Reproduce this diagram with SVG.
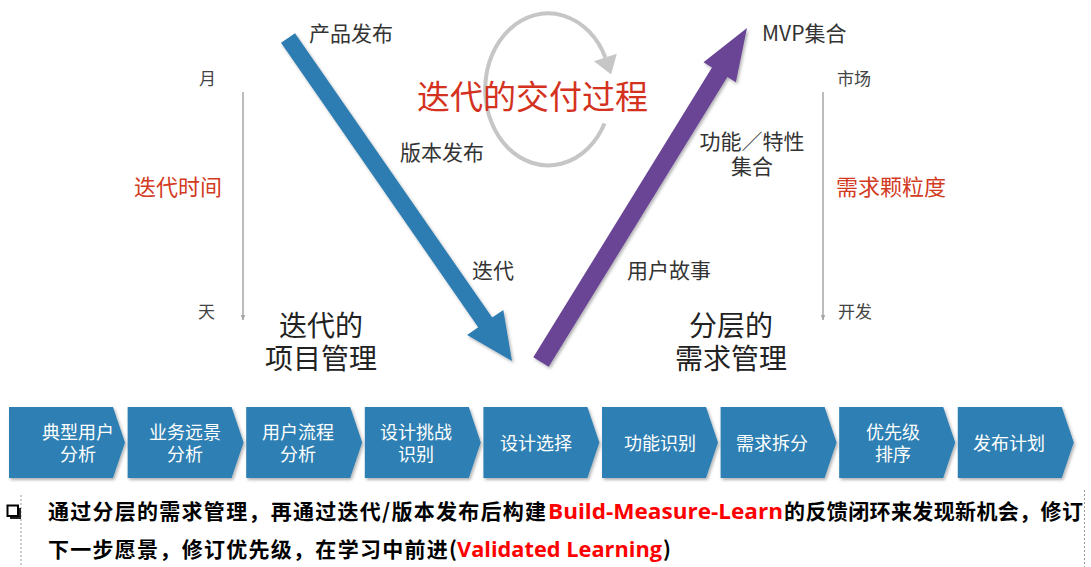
<svg xmlns="http://www.w3.org/2000/svg" width="1091" height="567" viewBox="0 0 1091 567">
<style>
.lbl{font-family:"Noto Sans CJK SC","Noto Sans",sans-serif;fill:#333;font-size:21px}
.sm{font-family:"Noto Sans CJK SC","Noto Sans",sans-serif;fill:#444;font-size:17px}
.red{font-family:"Noto Sans CJK SC",sans-serif;fill:#d33a22;font-size:22px}
.big{font-family:"Noto Sans CJK SC",sans-serif;fill:#222;font-size:28px;text-anchor:middle}
.chev{fill:#2f7fb3;filter:url(#sh)}
.ct{font-family:"Noto Sans CJK SC",sans-serif;fill:#fff;font-size:18px;text-anchor:middle}
.bt{font-family:"Noto Sans CJK SC",sans-serif;font-weight:bold;font-size:21px;fill:#000}
.br{font-family:"Open Sans","Noto Sans CJK SC",sans-serif;font-weight:bold;font-size:21px;fill:#ff0000}
.axis{stroke:#a6a6a6;stroke-width:1.5;fill:none;marker-end:url(#ah)}
</style>
<defs>
<filter id="sh" x="-10%" y="-10%" width="130%" height="130%">
<feDropShadow dx="1.5" dy="2" stdDeviation="1.5" flood-color="#000" flood-opacity="0.3"/>
</filter>
<marker id="ah" viewBox="0 0 10 10" refX="9" refY="5" markerWidth="6" markerHeight="6" orient="auto" markerUnits="userSpaceOnUse">
<path d="M0,1 L10,5 L0,9 Z" fill="#a6a6a6"/>
</marker>
</defs>
<rect width="1091" height="567" fill="#fff"/>

<g id="connectors">
<path d="M604.5,123.5 A63,76 0 1 1 605.4,57.5" fill="none" stroke="#c6c6c6" stroke-width="4"/>
<polygon points="616.8,53.7 594,61.3 611.1,74.6" fill="#c6c6c6"/>
<polygon points="295,33.2 492.2,317.6 503.3,309.9 512,361 467.1,334.9 478.2,327.2 281,42.8" fill="#2d7db2" filter="url(#sh)"/>
<polygon points="533.3,357.3 712,67.6 703.5,62.3 747,28 735.9,82.3 727.4,77 548.7,366.7" fill="#6a4595" filter="url(#sh)"/>
<line class="axis" x1="243" y1="92" x2="243" y2="320"/>
<line class="axis" x1="823" y1="92" x2="823" y2="320"/>
</g>

<g id="title"><text x="417" y="109" style="font-family:'Noto Sans CJK SC',sans-serif;font-size:33px;fill:#d4321e">迭代的交付过程</text></g>
<g id="label-product"><text class="lbl" x="309" y="41">产品发布</text></g>
<g id="label-version"><text class="lbl" x="400" y="160">版本发布</text></g>
<g id="label-iter"><text class="lbl" x="472" y="278">迭代</text></g>
<g id="label-mvp"><text class="lbl" x="762" y="41">MVP集合</text></g>
<g id="label-feature"><text class="lbl" x="752" y="149" text-anchor="middle">功能／特性</text><text class="lbl" x="752" y="174" text-anchor="middle">集合</text></g>
<g id="label-story"><text class="lbl" x="627" y="278">用户故事</text></g>

<g id="axis-left">
<text class="sm" x="199" y="85">月</text>
<text class="sm" x="198" y="318">天</text>
<text class="red" x="134" y="195">迭代时间</text>
</g>
<g id="axis-right">
<text class="sm" x="837" y="85">市场</text>
<text class="sm" x="838" y="318">开发</text>
<text class="red" x="836" y="195">需求颗粒度</text>
</g>

<g id="project-mgmt"><text class="big" x="321" y="336">迭代的</text><text class="big" x="321" y="369">项目管理</text></g>
<g id="req-mgmt"><text class="big" x="731" y="336">分层的</text><text class="big" x="731" y="369">需求管理</text></g>

<g id="step1"><path class="chev" d="M9,407 H113 L125,442.5 L113,478 H9 Z"/><text class="ct" x="78" y="439">典型用户</text><text class="ct" x="78" y="461">分析</text></g>
<g id="step2"><path class="chev" d="M127.6,407 H231.6 L243.6,442.5 L231.6,478 H127.6 Z"/><text class="ct" x="185" y="439">业务远景</text><text class="ct" x="185" y="461">分析</text></g>
<g id="step3"><path class="chev" d="M246.2,407 H350.2 L362.2,442.5 L350.2,478 H246.2 Z"/><text class="ct" x="298" y="439">用户流程</text><text class="ct" x="298" y="461">分析</text></g>
<g id="step4"><path class="chev" d="M364.8,407 H468.8 L480.8,442.5 L468.8,478 H364.8 Z"/><text class="ct" x="416" y="439">设计挑战</text><text class="ct" x="416" y="461">识别</text></g>
<g id="step5"><path class="chev" d="M483.4,407 H587.4 L599.4,442.5 L587.4,478 H483.4 Z"/><text class="ct" x="536" y="450">设计选择</text></g>
<g id="step6"><path class="chev" d="M602,407 H706 L718,442.5 L706,478 H602 Z"/><text class="ct" x="660" y="450">功能识别</text></g>
<g id="step7"><path class="chev" d="M720.6,407 H824.6 L836.6,442.5 L824.6,478 H720.6 Z"/><text class="ct" x="772" y="450">需求拆分</text></g>
<g id="step8"><path class="chev" d="M839.2,407 H943.2 L955.2,442.5 L943.2,478 H839.2 Z"/><text class="ct" x="893" y="439">优先级</text><text class="ct" x="893" y="461">排序</text></g>
<g id="step9"><path class="chev" d="M957.8,407 H1061.8 L1073.8,442.5 L1061.8,478 H957.8 Z"/><text class="ct" x="1009" y="450">发布计划</text></g>

<g id="note">
<line x1="21" y1="495" x2="21" y2="567" stroke="#999" stroke-width="1" stroke-dasharray="2,2"/>
<line x1="1084.5" y1="490" x2="1084.5" y2="567" stroke="#999" stroke-width="1" stroke-dasharray="2,2"/>
<rect x="10" y="508" width="11" height="11" fill="#222"/>
<rect x="7.5" y="505.5" width="10.5" height="10.5" fill="#fff" stroke="#000" stroke-width="2"/>
<text class="bt" x="48" y="519" textLength="498">通过分层的需求管理，再通过迭代/版本发布后构建</text>
<text class="br" x="548" y="519" textLength="235" lengthAdjust="spacingAndGlyphs">Build-Measure-Learn</text>
<text class="bt" x="784" y="519" textLength="299">的反馈闭环来发现新机会，修订</text>
<text class="bt" x="48" y="557" textLength="409">下一步愿景，修订优先级，在学习中前进(</text>
<text class="br" x="457" y="557" textLength="205" lengthAdjust="spacingAndGlyphs">Validated Learning</text>
<text class="bt" x="663" y="557">)</text>
</g>
</svg>
